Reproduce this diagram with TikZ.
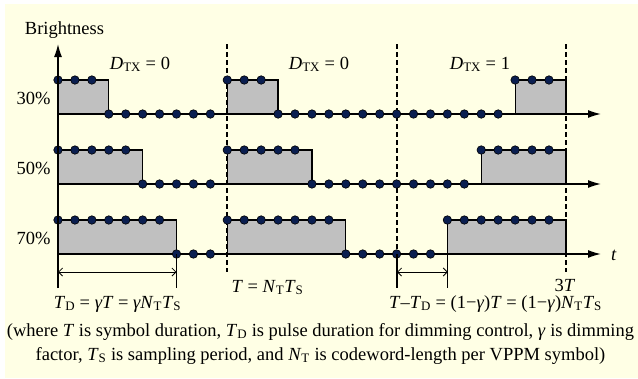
\documentclass[tikz,border=0pt]{standalone}
\usepackage{fontspec}
\setmainfont{Liberation Serif}
\usetikzlibrary{calc,arrows.meta}

\definecolor{paper}{RGB}{255,255,229}
\definecolor{dotblue}{RGB}{10,30,80}
\definecolor{pulsegray}{RGB}{192,192,192}

\newcommand{\sub}[1]{\textsubscript{#1}}
\newcommand{\iv}[1]{\textit{#1}}

\begin{document}
\begin{tikzpicture}[x=1pt,y=-1pt,
  dot/.style={circle,draw=black,fill=dotblue,inner sep=0pt,minimum size=8.5pt,line width=0.6pt},
  pulse/.style={draw=black,fill=pulsegray,line width=1.2pt},
  axis/.style={line width=1.4pt,-{Latex[length=13pt,width=8pt]}},
  symline/.style={line width=1.3pt,dash pattern=on 5pt off 3pt},
  extline/.style={line width=1.2pt},
  dimline/.style={line width=0.8pt,{Straight Barb[length=4pt,width=8pt]}-{Straight Barb[length=4pt,width=8pt]}},
  lbl/.style={font=\fontsize{18.5}{22}\selectfont}]

\useasboundingbox (0,0) rectangle (638,378);
\fill[paper] (5,4) rectangle (638,378);

% symbol boundaries
\coordinate (b1t) at (227,44);
\coordinate (b1b) at (227,272);
\coordinate (b2t) at (397,44);
\coordinate (b2b) at (397,272);
\coordinate (b3t) at (566,44);
\coordinate (b3b) at (566,272);
\draw [symline] (b1t) -- (b1b);
\draw [symline] (b2t) -- (b2b);
\draw [symline] (b3t) -- (b3b);

% one row per dimming level
\foreach \r/\low/\w/\pct in {1/114/3/30, 2/184/5/50, 3/254/7/70}{
  \pgfmathtruncatemacro\q{30-\w}
  \foreach \p in {0,10,\q}
    \draw [pulse] (58+\p*16.93,\low) rectangle (58+\p*16.93+\w*16.93,\low-34);
  \coordinate (a\r s) at (58,\low);
  \coordinate (a\r e) at (601,\low);
  \draw [axis] (a\r s) -- (a\r e);
  \node [lbl, anchor=base east] (pct\r) at (54,\low-10) {\pct\%};
  \foreach \k in {0,...,29}{
    \pgfmathtruncatemacro\m{mod(\k,10)}
    \pgfmathtruncatemacro\hi{((\k<20)&&(\m<\w))||(\k>=\q)}
    \ifnum\hi=1
      \node [dot] (d\r-\k) at (58+\k*16.93,\low-34) {};
    \else
      \node [dot] (d\r-\k) at (58+\k*16.93,\low) {};
    \fi
  }
}

% brightness axis
\coordinate (ybot) at (58,288);
\coordinate (ytop) at (58,44);
\draw [axis] (ybot) -- (ytop);
\node [lbl, anchor=base] (ylab) at (64.5,34) {Brightness};
\node [lbl, anchor=base] (tlab) at (614,260) {\iv{t}};

% symbol labels
\node [lbl, anchor=base] (dtx1) at (140,69) {\iv{D}\sub{TX} = 0};
\node [lbl, anchor=base] (dtx2) at (319,69) {\iv{D}\sub{TX} = 0};
\node [lbl, anchor=base] (dtx3) at (480,69) {\iv{D}\sub{TX} = 1};

% durations
\coordinate (e1t) at (176.5,254);
\coordinate (e1b) at (176.5,288);
\coordinate (e2t) at (397,254);
\coordinate (e2b) at (397,288);
\coordinate (e3t) at (447.8,254);
\coordinate (e3b) at (447.8,288);
\draw [extline] (e1t) -- (e1b);
\draw [extline] (e2t) -- (e2b);
\draw [extline] (e3t) -- (e3b);
\coordinate (m1l) at (58,272);
\coordinate (m1r) at (176.5,272);
\coordinate (m2l) at (397,272);
\coordinate (m2r) at (447.8,272);
\draw [dimline] (m1l) -- (m1r);
\draw [dimline] (m2l) -- (m2r);

\node [lbl, anchor=base] (tdlab) at (117.5,308) {\iv{T}\sub{D} = \iv{γT} = \iv{γN}\sub{T}\iv{T}\sub{S}};
\node [lbl, anchor=base] (tlen) at (267.5,292) {\iv{T} = \iv{N}\sub{T}\iv{T}\sub{S}};
\node [lbl, anchor=base] (offlab) at (495.5,308) {\iv{T}–\iv{T}\sub{D} = (1−\iv{γ})\iv{T} = (1−\iv{γ})\iv{N}\sub{T}\iv{T}\sub{S}};
\node [lbl, anchor=base] (threet) at (565,291) {3\iv{T}};

% caption
\node [lbl, anchor=base] (cap1) at (320.5,336) {(where \iv{T} is symbol duration, \iv{T}\sub{D} is pulse duration for dimming control, \iv{γ} is dimming};
\node [lbl, anchor=base] (cap2) at (320.5,360) {factor, \iv{T}\sub{S} is sampling period, and \iv{N}\sub{T} is codeword-length per VPPM symbol)};

\end{tikzpicture}
\end{document}
